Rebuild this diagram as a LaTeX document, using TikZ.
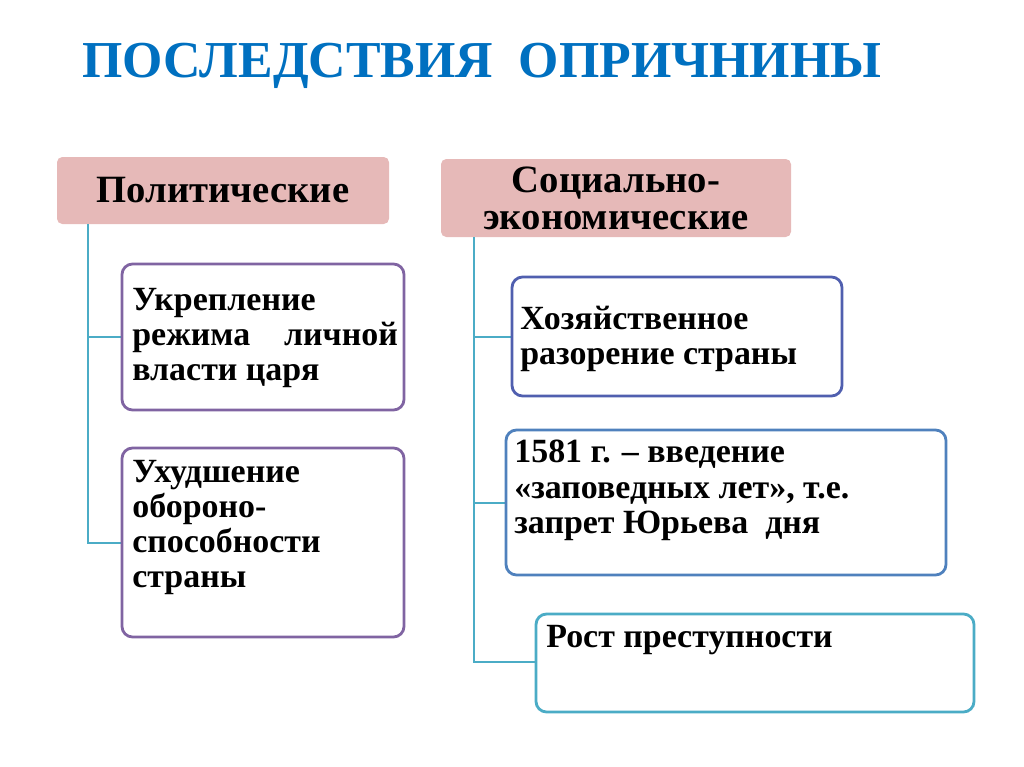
\documentclass[tikz,border=0pt]{standalone}
\usepackage{fontspec}
\setmainfont{Liberation Serif}
\begin{document}
\begin{tikzpicture}[x=0.02cm,y=-0.02cm]
\definecolor{ttl}{RGB}{0,112,192}
\definecolor{pinkf}{RGB}{230,185,184}
\definecolor{purp}{RGB}{128,100,162}
\definecolor{bluep}{RGB}{80,95,175}
\definecolor{blu}{RGB}{79,129,189}
\definecolor{teal}{RGB}{75,172,198}
\tikzset{
 hdr/.style={fill=pinkf,draw=none,rounded corners=3pt},
 bx/.style={draw,line width=1.6pt,rounded corners=6pt,fill=white},
 txt/.style={anchor=north west,align=left,font=\bfseries\fontsize{19.3}{20}\selectfont,inner sep=0pt},
 conn/.style={draw=teal,line width=1.4pt}
}
\useasboundingbox (0,0) rectangle (1024,767);
\node[font=\bfseries\fontsize{29.5}{32}\selectfont,text=ttl] (title) at (482,66) {ПОСЛЕДСТВИЯ\ \ ОПРИЧНИНЫ};
% headers
\draw[hdr] (57,157) rectangle (389,224);
\node[font=\bfseries\fontsize{22}{22}\selectfont] (h1) at (223,190) {Политические};
\draw[hdr] (441,159) rectangle (791,237);
\node[font=\bfseries\fontsize{22}{21}\selectfont,align=center] (h2) at (616,198) {Социально-\\экономические};
% connectors
\coordinate (l0) at (88,224); \coordinate (l1) at (88,337); \coordinate (l2) at (88,543);
\coordinate (r0) at (474,237); \coordinate (r1) at (474,337); \coordinate (r2) at (474,503); \coordinate (r3) at (474,662);
\draw[conn] (l0) -- (l2) -- (122,543);
\draw[conn] (l1) -- (122,337);
\draw[conn] (r0) -- (r3) -- (536,662);
\draw[conn] (r1) -- (512,337);
\draw[conn] (r2) -- (506,503);
% boxes
\draw[bx,draw=purp] (122,264) rectangle (404,410);
\node[txt] (t1) at (132,288) {Укрепление\\режима\hspace{1em}личной\\власти царя};
\draw[bx,draw=purp] (122,448) rectangle (404,637);
\node[txt] (t2) at (132,460) {Ухудшение\\обороно-\\способности\\страны};
\draw[bx,draw=bluep] (512,277) rectangle (842,396);
\node[txt] (t3) at (520,306) {Хозяйственное\\разорение страны};
\draw[bx,draw=blu] (506,430) rectangle (946,575);
\node[txt] (t4) at (514,440) {1581 г. – введение\\«заповедных лет», т.е.\\запрет Юрьева\ \ дня};
\draw[bx,draw=teal] (536,614) rectangle (974,712);
\node[txt] (t5) at (546,625) {Рост преступности};
\end{tikzpicture}
\end{document}
